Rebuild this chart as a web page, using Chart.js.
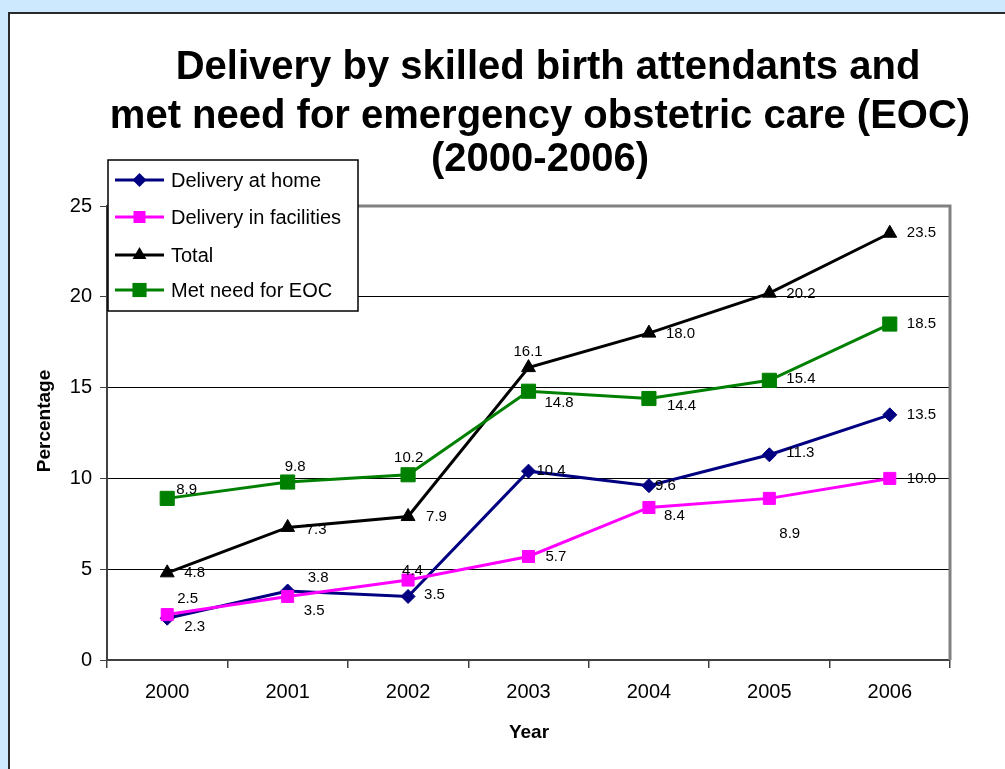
<!DOCTYPE html>
<html>
<head>
<meta charset="utf-8">
<script src="https://cdn.jsdelivr.net/npm/chart.js@4.4.0/dist/chart.umd.min.js"></script>
<style>
	body { margin: 0; background: #cde9fd; }
	canvas { display: block; }
</style>
</head>
<body>
<canvas id="chart" width="1005" height="769"></canvas>
<script>
// data
const years = ['2000', '2001', '2002', '2003', '2004', '2005', '2006']
const deliveryHome = [2.3, 3.8, 3.5, 10.4, 9.6, 11.3, 13.5]
const deliveryFacilities = [2.5, 3.5, 4.4, 5.7, 8.4, 8.9, 10.0]
const total = [4.8, 7.3, 7.9, 16.1, 18.0, 20.2, 23.5]
const metNeedEoc = [8.9, 9.8, 10.2, 14.8, 14.4, 15.4, 18.5]
const seriesNames = ['Delivery at home', 'Delivery in facilities', 'Total', 'Met need for EOC']
const titleLines = ['Delivery by skilled birth attendants and', 'met need for emergency obstetric care (EOC)', '(2000-2006)']

// label placement relative to the point [dx, dy], text left-aligned
const labelOffsets = [
	[[17, 9], [20, -13], [16, -2], [8, 0], [6, 0], [17, -2], [17, 0]],
	[[10, -16], [16, 14], [-6, -9], [17, 0], [15, 8], [10, 35], [17, 0]],
	[[17, 0], [18, 2], [18, 0], [-15, -16], [17, 1], [17, 1], [17, 0]],
	[[9, -9], [-3, -15], [-14, -17], [16, 12], [18, 7], [17, -1], [17, 0]],
]

const styles = [
	{ color: '#000080', point: 'rectRot', radius: 7 },
	{ color: '#ff00ff', point: 'rect', radius: 8.5 },
	{ color: '#000000', point: 'triangle', radius: 8 },
	{ color: '#008000', point: 'rect', radius: 10 },
]

const allSeries = [deliveryHome, deliveryFacilities, total, metNeedEoc]

// later series drawn on top, like the original
const datasets = allSeries.map((values, i) => ({
	label: seriesNames[i],
	data: values,
	order: allSeries.length - i,
	borderColor: styles[i].color,
	backgroundColor: styles[i].color,
	borderWidth: 3,
	pointStyle: styles[i].point,
	pointRadius: styles[i].radius,
	pointBorderWidth: 1,
	tension: 0,
}))

const decor = {
	id: 'decor',
	beforeDraw(chart) {
		const ctx = chart.ctx
		ctx.save()
		ctx.fillStyle = '#cde9fd'
		ctx.fillRect(0, 0, chart.width, chart.height)
		ctx.fillStyle = '#ffffff'
		ctx.fillRect(9, 13, chart.width, chart.height)
		ctx.strokeStyle = '#2a2a2a'
		ctx.lineWidth = 2
		ctx.beginPath()
		ctx.moveTo(9, chart.height + 5)
		ctx.lineTo(9, 13)
		ctx.lineTo(chart.width + 5, 13)
		ctx.stroke()
		ctx.restore()
	},
	beforeDatasetsDraw(chart) {
		const ctx = chart.ctx
		const a = chart.chartArea
		ctx.save()
		ctx.strokeStyle = '#808080'
		ctx.lineWidth = 3
		ctx.beginPath()
		ctx.moveTo(a.left, a.top)
		ctx.lineTo(a.right, a.top)
		ctx.lineTo(a.right, a.bottom)
		ctx.stroke()
		ctx.restore()
	},
	afterDraw(chart) {
		const ctx = chart.ctx
		ctx.save()
		ctx.fillStyle = '#000'
		ctx.textBaseline = 'middle'

		// title
		ctx.font = 'bold 40px "Liberation Sans", Arial, sans-serif'
		ctx.textAlign = 'center'
		ctx.fillText(titleLines[0], 548, 68)
		ctx.fillText(titleLines[1], 540, 117)
		ctx.fillText(titleLines[2], 540, 160)

		// axis titles
		ctx.font = 'bold 19px "Liberation Sans", Arial, sans-serif'
		ctx.fillText('Year', 529, 733)
		ctx.save()
		ctx.translate(45, 421)
		ctx.rotate(-Math.PI / 2)
		ctx.fillText('Percentage', 0, 0)
		ctx.restore()

		// data labels
		ctx.font = '15px "Liberation Sans", Arial, sans-serif'
		ctx.textAlign = 'left'
		chart.data.datasets.forEach((ds, i) => {
			chart.getDatasetMeta(i).data.forEach((pt, j) => {
				const off = labelOffsets[i][j]
				ctx.fillText(ds.data[j].toFixed(1), pt.x + off[0], pt.y + off[1])
			})
		})

		// legend box
		ctx.fillStyle = '#fff'
		ctx.fillRect(108, 160, 250, 151)
		ctx.strokeStyle = '#000'
		ctx.lineWidth = 1.5
		ctx.strokeRect(108, 160, 250, 151)
		const rows = [180, 217, 255, 290]
		ctx.font = '20px "Liberation Sans", Arial, sans-serif'
		styles.forEach((s, i) => {
			ctx.strokeStyle = s.color
			ctx.fillStyle = s.color
			ctx.lineWidth = 3
			ctx.beginPath()
			ctx.moveTo(115, rows[i])
			ctx.lineTo(164, rows[i])
			ctx.stroke()
			ctx.lineWidth = 1
			Chart.helpers.drawPoint(ctx, { pointStyle: s.point, radius: s.radius, rotation: 0 }, 139.5, rows[i])
			ctx.fillStyle = '#000'
			ctx.fillText(seriesNames[i], 171, rows[i] + 1)
		})
		ctx.restore()
	},
}

new Chart(document.getElementById('chart'), {
	type: 'line',
	data: { labels: years, datasets: datasets },
	options: {
		responsive: false,
		animation: false,
		layout: { padding: { left: 0, right: 55, top: 206, bottom: 0 } },
		plugins: {
			legend: { display: false },
			title: { display: false },
			tooltip: { enabled: false },
		},
		scales: {
			x: {
				offset: true,
				grid: {
					offset: true,
					drawOnChartArea: false,
					tickLength: 8,
					color: '#404040',
					lineWidth: 1.5,
				},
				border: { color: '#404040', width: 2 },
				ticks: {
					color: '#000',
					padding: 12,
					font: { family: '"Liberation Sans", Arial, sans-serif', size: 20 },
				},
				afterFit: (scale) => {
					scale.height = 109
				},
			},
			y: {
				min: 0,
				max: 25,
				ticks: {
					stepSize: 5,
					color: '#000',
					padding: 8,
					font: { family: '"Liberation Sans", Arial, sans-serif', size: 20 },
				},
				grid: {
					color: (c) => (c.tick && (c.tick.value === 0 || c.tick.value === 25) ? 'rgba(0,0,0,0)' : '#000'),
					tickColor: '#404040',
					lineWidth: 1,
					tickLength: 7,
				},
				border: { color: '#404040', width: 2 },
				afterFit: (scale) => {
					scale.width = 107
				},
			},
		},
	},
	plugins: [decor],
})
</script>
</body>
</html>
